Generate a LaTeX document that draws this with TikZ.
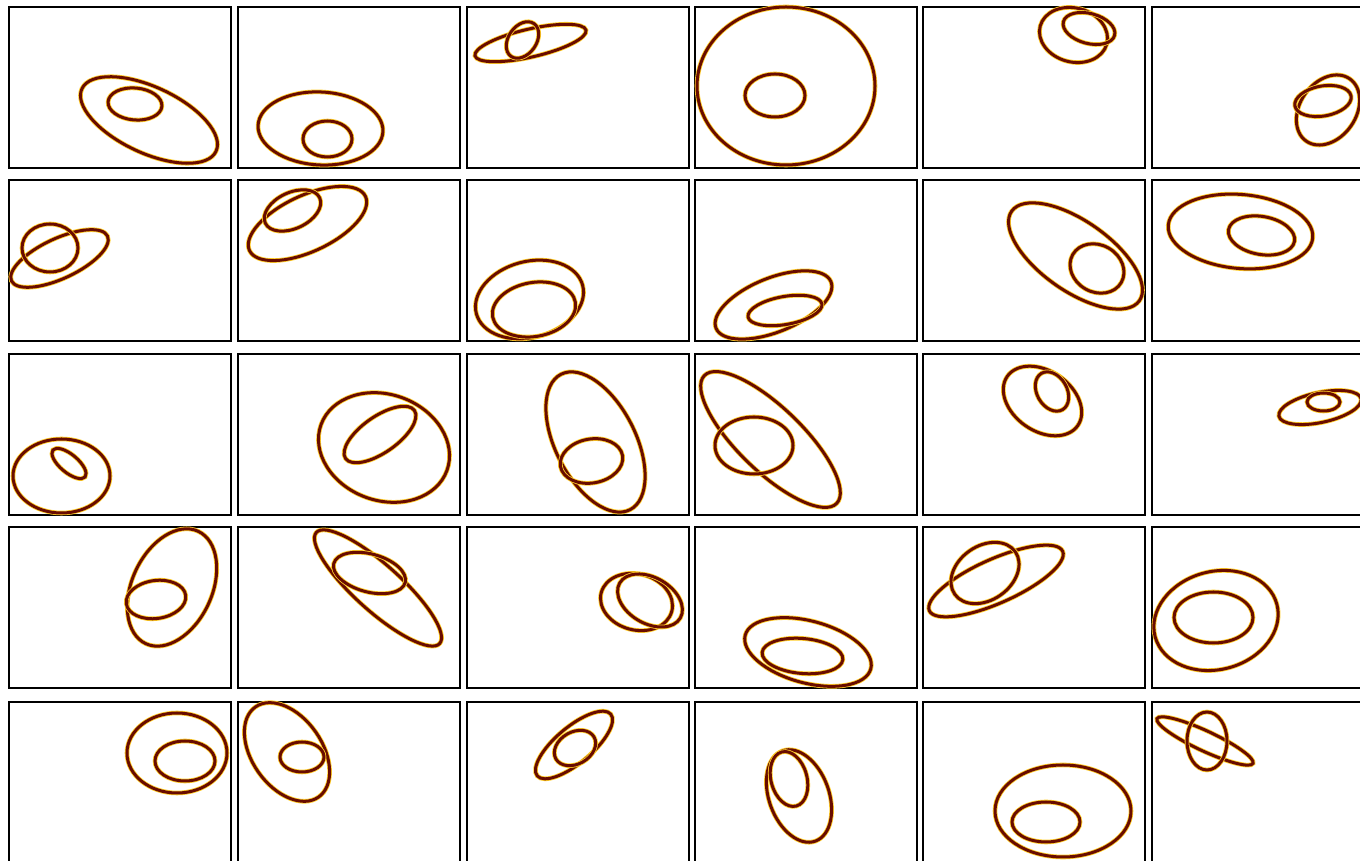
\documentclass[tikz,border=0pt]{standalone}
\definecolor{elcore}{RGB}{105,12,0}
\definecolor{elhalo}{RGB}{255,205,40}
\tikzset{
  halo/.style={draw=elhalo,line width=4.6pt},
  core/.style={draw=elcore,line width=3pt},
  panel/.style={draw=black,line width=2pt}
}
\newcommand\el[5]{%
  \draw[halo,shift={({#1},{861-#2})},rotate=#5] (0,0) ellipse [x radius=#3pt, y radius=#4pt];
  \draw[core,shift={({#1},{861-#2})},rotate=#5] (0,0) ellipse [x radius=#3pt, y radius=#4pt];}
\newcommand\fr[2]{\draw[panel] ({#1},{861-#2}) rectangle ({#1+222},{861-#2-161});}
\begin{document}
\begin{tikzpicture}[x=1pt,y=1pt]
\useasboundingbox (0,0) rectangle (1360,861);
\fill[white] (0,0) rectangle (1360,861);
\clip (0,0) rectangle (1360,861);
\foreach \yy in {7,180,354,527,702}{
  \foreach \xx in {9,238,467,695,923,1152}{ \fr{\xx}{\yy} }}
% row 1
\el{149}{120}{74}{33}{-25} \el{135}{104}{27}{16}{-5}
\el{320.5}{128.5}{62.5}{36.5}{-3} \el{327.5}{139}{24.5}{18}{0}
\el{530.5}{43}{57}{14}{13} \el{522.5}{40}{20}{14}{55}
\el{786}{86}{89}{79}{0} \el{775}{95.5}{30}{21.5}{0}
\el{1073.5}{35}{34.5}{27}{-15} \el{1089}{28.5}{26.5}{15}{-15}
\el{1328}{110}{38}{28}{55} \el{1323}{101}{28.5}{15}{10}
% row 2
\el{59.5}{258.5}{53}{20}{25} \el{50}{248}{28}{24}{0}
\el{307.5}{223.5}{64}{28}{25} \el{292.5}{210.5}{30}{18}{25}
\el{529.5}{299.5}{55}{38}{15} \el{534}{309.5}{42}{27}{10}
\el{773.5}{305}{62}{27}{22} \el{785}{310.5}{37.5}{14}{10}
\el{1075.5}{256}{78}{35}{-35} \el{1097}{268.5}{28}{23.5}{-30}
\el{1240.5}{231.5}{72.5}{37}{-5} \el{1261.5}{235.5}{33.5}{19}{-10}
% row 3
\el{61.5}{476}{48.5}{37}{0} \el{69}{463.5}{21}{9}{-40}
\el{384}{447.5}{67}{53}{-20} \el{380}{434.5}{42}{18}{35}
\el{595.5}{442}{76}{40}{-63} \el{591.5}{461}{31.5}{22}{10}
\el{770.5}{439.5}{92}{32}{-44} \el{754}{445.5}{39}{28.5}{0}
\el{1042.5}{401}{43}{30}{-35} \el{1052}{391.5}{21}{15}{-60}
\el{1320}{407.5}{42}{15}{12} \el{1323.5}{402}{16.5}{9}{0}
% row 4
\el{172}{587.5}{62}{40}{65} \el{156}{599.5}{30}{19}{8}
\el{378}{588}{83}{23}{-42} \el{369.5}{573}{37}{19}{-15}
\el{636.5}{602}{36.5}{28}{-15} \el{650}{600.5}{35}{23}{-30}
\el{808}{652}{65}{31}{-15} \el{802.5}{656}{40.5}{17.5}{-5}
\el{996}{581}{73}{22}{24} \el{985}{573}{37}{27}{35}
\el{1216}{620.5}{63}{49}{15} \el{1213.5}{617.5}{39.5}{25.5}{0}
% row 5
\el{177}{753}{50}{40}{0} \el{185}{761}{30}{20}{0}
\el{287}{752}{55}{35}{-55} \el{302}{757}{22}{15}{0}
\el{574}{745}{48}{18}{40} \el{575}{748}{22}{16}{30}
\el{799}{796}{48}{30}{-70} \el{789}{779}{28}{18}{-75}
\el{1063}{811}{68}{46}{0} \el{1046}{822}{34}{20}{0}
\el{1205}{741}{53}{10}{-25} \el{1207}{741}{20}{29}{0}
\end{tikzpicture}
\end{document}
